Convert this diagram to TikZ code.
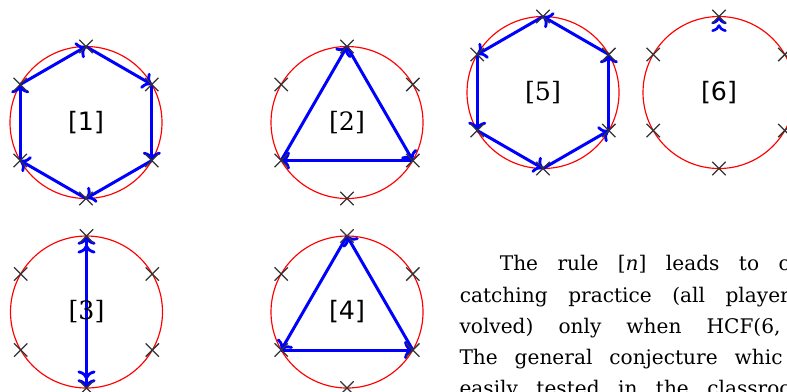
\documentclass[tikz,border=0pt]{standalone}
\usepackage{fontspec}
\setmainfont{DejaVu Serif}
\newfontfamily\lsans{DejaVu Sans}
\usetikzlibrary{arrows.meta,shapes.misc,calc,decorations.markings}
\newlength{\pxu}\setlength{\pxu}{0.3876pt}
\newcommand{\jline}[2]{\makebox[#1\pxu][s]{#2}}
\tikzset{
  myto/.tip={Computer Modern Rightarrow[length=3.4pt,width=7pt,line width=1.1pt]},
  ring/.style={draw=red, line width=0.45pt},
  pass/.style={draw=blue, line width=1.16pt, -{myto}},
  xmark/.style={cross out, draw=black!80, line width=0.5pt, minimum size=12\pxu, inner sep=0pt},
  lab/.style={font=\fontsize{9.8}{11}\selectfont, inner sep=0pt},
  txt/.style={font=\fontsize{7.8}{10}\selectfont, anchor=base west, inner sep=0pt},
}
\begin{document}
\begin{tikzpicture}[x=\pxu, y=-\pxu]
\useasboundingbox (0,0) rectangle (787,391);
\clip (0,0) rectangle (787,391);
% centres and player positions
\foreach \n/\cx/\cy in {1/86/122.5, 2/347/122.5, 3/86.5/312, 4/347/312, 5/543/92.5, 6/719/92.5} {
  \coordinate (c\n) at (\cx,\cy);
  \foreach \k/\a in {1/-90,2/-30,3/30,4/90,5/150,6/210}
    \coordinate (v\n-\k) at ($(c\n)+(\a:76)$);
  \draw[ring] (c\n) circle[radius=76\pxu];
}
% [1] clockwise hexagon
\foreach \a/\b in {1/2,2/3,3/4,4/5,5/6,6/1}
  \draw[pass] (v1-\a) -- (v1-\b);
% [2] triangle
\foreach \a/\b in {1/3,3/5,5/1}
  \draw[pass] (v2-\a) -- (v2-\b);
% [3] diameter
\draw[draw=blue, line width=1.16pt, {myto[sep=0pt]myto}-{myto[sep=0pt]myto}] (v3-1) -- (v3-4);
% [4] triangle
\foreach \a/\b in {1/5,5/3,3/1}
  \draw[pass] (v4-\a) -- (v4-\b);
% [5] anticlockwise hexagon
\foreach \a/\b in {1/6,6/5,5/4,4/3,3/2,2/1}
  \draw[pass] (v5-\a) -- (v5-\b);
% [6] self throw
\coordinate (v6b) at ($(v6-1)+(0,20)$);
\path[decorate,
  decoration={markings, mark=at position 1 with {\arrow[color=blue]{Computer Modern Rightarrow[length=3pt,width=6pt,line width=1pt,sep=0pt] Computer Modern Rightarrow[length=3pt,width=6pt,line width=1pt]}}}]
  (v6b) -- (v6-1);
% crosses
\foreach \n in {1,...,6}
  \foreach \k in {1,...,6}
    \node[xmark] (x\n-\k) at (v\n-\k) {};
% labels
\node[lab] (l1) at (c1) {\lsans [1]};
\node[lab] (l2) at (c2) {[2]};
\node[lab] (l3) at (c3) {[3]};
\node[lab] (l4) at (c4) {\lsans [4]};
\node[lab] (l5) at (c5) {[5]};
\node[lab] (l6) at (c6) {\lsans [6]};
% text (justified lines, cut at the right edge)
\node[txt] (t1) at (499.3,270.7) {\jline{290}{The rule [\textit{n}] leads to c}};
\node[txt] (t2) at (459.3,302) {\jline{330}{catching practice (all player}};
\node[txt] (t3) at (459,333.3) {\jline{321}{volved) only when HCF(6,}};
\node[txt] (t4) at (459,364.6) {\jline{323}{The general conjecture whic}};
\node[txt] (t5) at (459,395.9) {\jline{332}{easily tested in the classroo}};
\end{tikzpicture}
\end{document}
